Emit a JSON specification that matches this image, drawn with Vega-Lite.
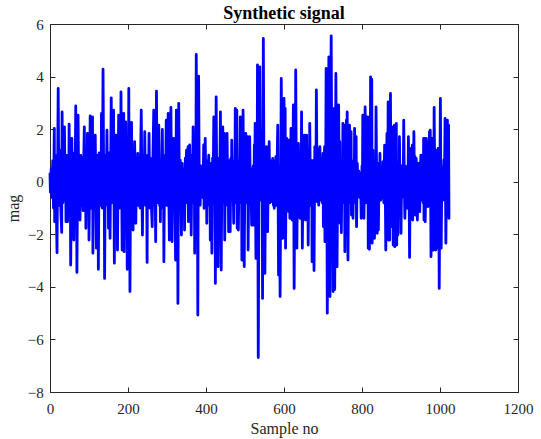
{
"$schema": "https://vega.github.io/schema/vega-lite/v6.json",
"width": 468, "height": 368,
"autosize": "none",
"padding": {"left": 50, "top": 24, "right": 23, "bottom": 47},
"background": "white",
"title": {"text": "Synthetic signal", "font": "Liberation Serif", "fontSize": 18, "fontWeight": "bold", "color": "#000000", "offset": -6},
"config": {
 "view": {"stroke": "#262626", "strokeWidth": 1},
 "axis": {"domain": false, "grid": false, "ticks": true, "tickSize": -5, "tickColor": "#262626", "tickWidth": 1,
  "labelFont": "Liberation Serif", "labelFontSize": 15, "labelColor": "#262626", "labelFlush": false, "labelOverlap": false, "labelBound": false,
  "titleFont": "Liberation Serif", "titleFontSize": 16, "titleFontWeight": "normal", "titleColor": "#262626"}
},
"data": {"values": [
{"n":0,"v":0.3},{"n":1,"v":-0.4},{"n":3,"v":0.5},{"n":5,"v":-0.6},{"n":7,"v":0.8},{"n":9,"v":-1.0},{"n":11,"v":2.03},{"n":12,"v":-1.52},{"n":14,"v":1.0},{"n":16,"v":-0.8},{"n":18,"v":-2.7},{"n":21,"v":3.55},{"n":23,"v":-0.9},{"n":25,"v":1.2},{"n":28,"v":-1.2},{"n":30,"v":-1.93},{"n":31,"v":2.66},{"n":33,"v":-0.8},{"n":37,"v":2.09},{"n":39,"v":-0.7},{"n":40,"v":0.6},{"n":41,"v":-1.52},{"n":43,"v":1.0},{"n":45,"v":-1.52},{"n":47,"v":0.9},{"n":48,"v":-0.6},{"n":49,"v":2.19},{"n":51,"v":-0.5},{"n":52,"v":0.5},{"n":53,"v":-3.17},{"n":56,"v":1.65},{"n":58,"v":-0.9},{"n":59,"v":1.0},{"n":61,"v":-2.22},{"n":63,"v":1.1},{"n":64,"v":-0.6},{"n":66,"v":2.88},{"n":67,"v":-1.0},{"n":68,"v":0.5},{"n":69,"v":-3.45},{"n":72,"v":2.53},{"n":74,"v":-0.8},{"n":75,"v":0.6},{"n":77,"v":-1.46},{"n":79,"v":1.0},{"n":81,"v":-0.9},{"n":83,"v":0.9},{"n":85,"v":-1.1},{"n":86,"v":0.5},{"n":88,"v":2.09},{"n":90,"v":-0.8},{"n":91,"v":0.4},{"n":92,"v":-1.77},{"n":94,"v":1.0},{"n":95,"v":-0.6},{"n":96,"v":1.84},{"n":98,"v":-1.0},{"n":99,"v":0.5},{"n":100,"v":-2.22},{"n":102,"v":0.6},{"n":103,"v":2.5},{"n":105,"v":-1.0},{"n":107,"v":1.0},{"n":108,"v":-0.6},{"n":109,"v":2.47},{"n":110,"v":-2.72},{"n":112,"v":0.8},{"n":114,"v":-0.9},{"n":116,"v":1.77},{"n":118,"v":-0.8},{"n":119,"v":-2.53},{"n":121,"v":1.0},{"n":123,"v":0.4},{"n":124,"v":-3.33},{"n":126,"v":1.1},{"n":128,"v":-0.9},{"n":130,"v":0.9},{"n":131,"v":-0.6},{"n":132,"v":2.6},{"n":134,"v":-1.0},{"n":136,"v":4.28},{"n":138,"v":-0.8},{"n":139,"v":0.5},{"n":140,"v":-3.68},{"n":142,"v":1.0},{"n":144,"v":-0.7},{"n":146,"v":1.96},{"n":148,"v":-0.9},{"n":149,"v":0.5},{"n":150,"v":-1.77},{"n":152,"v":1.1},{"n":154,"v":-2.15},{"n":157,"v":3.19},{"n":159,"v":-0.8},{"n":161,"v":0.9},{"n":162,"v":-0.5},{"n":163,"v":2.72},{"n":165,"v":-3.1},{"n":167,"v":1.0},{"n":168,"v":-0.6},{"n":169,"v":1.77},{"n":171,"v":-1.0},{"n":172,"v":0.5},{"n":173,"v":-2.6},{"n":175,"v":0.9},{"n":176,"v":2.53},{"n":178,"v":-1.0},{"n":180,"v":1.2},{"n":181,"v":-0.5},{"n":182,"v":3.42},{"n":184,"v":-0.6},{"n":185,"v":-2.6},{"n":187,"v":1.0},{"n":188,"v":-0.5},{"n":189,"v":2.6},{"n":190,"v":-2.66},{"n":192,"v":1.0},{"n":193,"v":-0.5},{"n":194,"v":2.28},{"n":196,"v":-0.9},{"n":197,"v":0.5},{"n":198,"v":-3.33},{"n":200,"v":1.0},{"n":201,"v":-0.5},{"n":202,"v":3.55},{"n":203,"v":-0.5},{"n":204,"v":0.6},{"n":205,"v":-4.18},{"n":207,"v":1.0},{"n":208,"v":-0.6},{"n":209,"v":2.26},{"n":211,"v":-0.9},{"n":212,"v":0.5},{"n":213,"v":-1.84},{"n":215,"v":0.9},{"n":216,"v":-0.5},{"n":217,"v":1.52},{"n":219,"v":-0.6},{"n":220,"v":-1.58},{"n":222,"v":0.8},{"n":223,"v":-0.5},{"n":225,"v":1.08},{"n":227,"v":-0.9},{"n":229,"v":0.7},{"n":231,"v":-1.0},{"n":232,"v":0.6},{"n":234,"v":2.72},{"n":236,"v":-0.8},{"n":237,"v":-2.03},{"n":239,"v":1.0},{"n":241,"v":-0.5},{"n":243,"v":1.9},{"n":245,"v":-0.9},{"n":247,"v":0.7},{"n":248,"v":-0.5},{"n":249,"v":-3.07},{"n":250,"v":1.0},{"n":252,"v":-0.8},{"n":254,"v":1.84},
{"n":256,"v":-1.0},{"n":258,"v":0.89},{"n":260,"v":-0.9},{"n":262,"v":-1.71},{"n":264,"v":1.0},{"n":266,"v":2.72},{"n":268,"v":-0.9},{"n":269,"v":0.5},{"n":271,"v":-2.28},{"n":273,"v":3.45},{"n":275,"v":-0.8},{"n":277,"v":1.0},{"n":278,"v":-0.6},{"n":279,"v":2.15},{"n":281,"v":-0.9},{"n":282,"v":0.5},{"n":283,"v":-1.52},{"n":285,"v":0.8},{"n":286,"v":-0.6},{"n":288,"v":1.99},{"n":290,"v":-1.0},{"n":291,"v":0.5},{"n":292,"v":-3.04},{"n":294,"v":1.0},{"n":296,"v":-0.7},{"n":298,"v":2.34},{"n":300,"v":-0.9},{"n":302,"v":0.6},{"n":303,"v":2.6},{"n":305,"v":-0.8},{"n":306,"v":-2.22},{"n":308,"v":0.9},{"n":309,"v":-0.5},{"n":310,"v":2.83},{"n":312,"v":-1.0},{"n":313,"v":-2.28},{"n":315,"v":0.9},{"n":316,"v":-0.5},{"n":317,"v":1.65},{"n":319,"v":-0.8},{"n":320,"v":0.5},{"n":322,"v":-2.98},{"n":324,"v":2.72},{"n":326,"v":-0.7},{"n":327,"v":0.6},{"n":328,"v":-4.63},{"n":330,"v":2.98},{"n":332,"v":-0.8},{"n":334,"v":0.82},{"n":336,"v":-1.0},{"n":337,"v":-2.03},{"n":339,"v":0.7},{"n":340,"v":-0.5},{"n":341,"v":0.5},{"n":343,"v":-0.9},{"n":344,"v":0.4},{"n":345,"v":-1.84},{"n":347,"v":0.9},{"n":348,"v":-0.6},{"n":350,"v":1.2},{"n":352,"v":-0.8},{"n":354,"v":1.33},{"n":355,"v":-1.52},{"n":357,"v":0.8},{"n":358,"v":1.4},{"n":360,"v":-0.9},{"n":361,"v":0.5},{"n":362,"v":-2.03},{"n":364,"v":1.0},{"n":365,"v":-0.6},{"n":367,"v":2.09},{"n":369,"v":-0.8},{"n":370,"v":0.5},{"n":371,"v":-2.72},{"n":373,"v":0.9},{"n":374,"v":-0.5},{"n":375,"v":4.84},{"n":377,"v":-0.8},{"n":378,"v":0.5},{"n":379,"v":-5.07},{"n":381,"v":4.02},{"n":383,"v":-0.6},{"n":384,"v":0.4},{"n":385,"v":-0.89},{"n":387,"v":0.6},{"n":388,"v":-0.5},{"n":390,"v":0.32},{"n":392,"v":-0.6},{"n":394,"v":1.4},{"n":395,"v":-1.01},{"n":397,"v":0.5},{"n":398,"v":1.65},{"n":400,"v":-0.7},{"n":401,"v":0.4},{"n":402,"v":-1.58},{"n":404,"v":0.8},{"n":405,"v":-0.5},{"n":407,"v":1.01},{"n":409,"v":-0.9},{"n":410,"v":0.5},{"n":411,"v":-2.22},{"n":413,"v":0.7},{"n":415,"v":-2.72},{"n":417,"v":0.9},{"n":418,"v":-0.5},{"n":420,"v":2.47},{"n":422,"v":-0.8},{"n":423,"v":0.5},{"n":424,"v":-3.87},{"n":426,"v":3.23},{"n":428,"v":-0.8},{"n":429,"v":0.5},{"n":431,"v":-3.23},{"n":433,"v":0.9},{"n":435,"v":-0.6},{"n":437,"v":2.66},{"n":439,"v":-3.36},{"n":441,"v":0.8},{"n":442,"v":-0.5},{"n":443,"v":2.09},{"n":445,"v":-0.8},{"n":446,"v":0.5},{"n":447,"v":1.84},{"n":448,"v":-2.22},{"n":450,"v":0.8},{"n":452,"v":-0.6},{"n":454,"v":1.84},{"n":456,"v":-0.9},{"n":457,"v":0.5},{"n":458,"v":-1.9},{"n":460,"v":0.8},{"n":462,"v":-1.9},{"n":464,"v":0.9},{"n":465,"v":-0.5},{"n":466,"v":1.58},{"n":468,"v":-0.7},{"n":469,"v":0.5},{"n":471,"v":-1.58},{"n":473,"v":0.8},{"n":474,"v":-0.5},{"n":475,"v":2.79},{"n":477,"v":-0.8},{"n":478,"v":0.6},{"n":479,"v":2.72},{"n":480,"v":-1.77},{"n":482,"v":0.7},{"n":483,"v":-1.84},{"n":485,"v":0.8},{"n":486,"v":-0.5},{"n":488,"v":2.47},{"n":490,"v":-0.8},{"n":491,"v":0.5},{"n":492,"v":-2.98},{"n":495,"v":2.72},{"n":497,"v":-0.6},{"n":498,"v":-3.23},{"n":500,"v":1.0},
{"n":501,"v":-0.6},{"n":502,"v":1.84},{"n":504,"v":-0.8},{"n":506,"v":0.6},{"n":507,"v":1.71},{"n":508,"v":-2.6},{"n":510,"v":0.7},{"n":511,"v":-0.5},{"n":512,"v":1.71},{"n":514,"v":-0.8},{"n":515,"v":0.5},{"n":517,"v":-1.65},{"n":519,"v":0.5},{"n":520,"v":-0.5},{"n":521,"v":0.6},{"n":522,"v":-1.65},{"n":524,"v":1.4},{"n":525,"v":-0.5},{"n":526,"v":2.22},{"n":528,"v":-2.92},{"n":530,"v":0.8},{"n":531,"v":-0.5},{"n":532,"v":4.44},{"n":534,"v":-6.69},{"n":536,"v":0.9},{"n":537,"v":-0.5},{"n":538,"v":4.37},{"n":540,"v":-0.7},{"n":541,"v":1.96},{"n":543,"v":-0.6},{"n":544,"v":0.5},{"n":545,"v":-4.44},{"n":547,"v":5.45},{"n":549,"v":-0.8},{"n":550,"v":0.5},{"n":551,"v":-3.49},{"n":553,"v":0.9},{"n":554,"v":-0.5},{"n":555,"v":1.33},{"n":557,"v":-0.7},{"n":558,"v":-1.9},{"n":560,"v":0.8},{"n":561,"v":-0.5},{"n":562,"v":1.52},{"n":564,"v":-0.8},{"n":565,"v":0.6},{"n":567,"v":-0.76},{"n":569,"v":0.8},{"n":570,"v":-0.5},{"n":571,"v":0.89},{"n":573,"v":-0.9},{"n":574,"v":0.5},{"n":575,"v":-1.01},{"n":577,"v":0.8},{"n":578,"v":-0.5},{"n":579,"v":0.95},{"n":581,"v":-0.9},{"n":582,"v":0.5},{"n":584,"v":2.15},{"n":586,"v":-3.55},{"n":588,"v":0.6},{"n":590,"v":-4.37},{"n":593,"v":3.93},{"n":595,"v":-0.8},{"n":596,"v":0.5},{"n":597,"v":-2.15},{"n":599,"v":0.8},{"n":600,"v":3.17},{"n":602,"v":-0.8},{"n":603,"v":2.79},{"n":604,"v":-2.53},{"n":606,"v":0.9},{"n":607,"v":1.65},{"n":609,"v":-0.8},{"n":610,"v":0.5},{"n":611,"v":1.58},{"n":612,"v":-1.14},{"n":614,"v":0.7},{"n":615,"v":-1.39},{"n":617,"v":0.9},{"n":618,"v":2.03},{"n":620,"v":-0.7},{"n":621,"v":-1.46},{"n":623,"v":0.8},{"n":624,"v":2.92},{"n":626,"v":-4.06},{"n":628,"v":0.9},{"n":629,"v":-0.5},{"n":630,"v":4.25},{"n":632,"v":-0.8},{"n":633,"v":-2.53},{"n":635,"v":0.9},{"n":636,"v":-0.5},{"n":637,"v":1.46},{"n":639,"v":-0.9},{"n":640,"v":0.5},{"n":641,"v":-1.39},{"n":643,"v":0.8},{"n":644,"v":-0.5},{"n":645,"v":2.66},{"n":647,"v":-2.53},{"n":649,"v":0.7},{"n":650,"v":-0.5},{"n":652,"v":1.77},{"n":654,"v":-0.7},{"n":655,"v":-1.46},{"n":657,"v":0.8},{"n":658,"v":1.77},{"n":660,"v":-0.8},{"n":661,"v":0.5},{"n":662,"v":-2.41},{"n":664,"v":0.8},{"n":665,"v":-0.5},{"n":666,"v":2.22},{"n":668,"v":-0.9},{"n":669,"v":0.5},{"n":670,"v":-0.4},{"n":671,"v":0.8},{"n":672,"v":-3.04},{"n":674,"v":0.8},{"n":675,"v":-0.5},{"n":677,"v":-3.38},{"n":679,"v":1.33},{"n":681,"v":-0.6},{"n":682,"v":0.5},{"n":683,"v":3.49},{"n":685,"v":-0.76},{"n":686,"v":1.27},{"n":688,"v":-0.6},{"n":689,"v":-0.89},{"n":691,"v":0.8},{"n":692,"v":1.33},{"n":694,"v":-0.7},{"n":695,"v":0.5},{"n":696,"v":0.63},{"n":698,"v":-0.8},{"n":699,"v":0.5},{"n":700,"v":1.08},{"n":701,"v":-1.71},{"n":703,"v":0.7},{"n":704,"v":1.33},{"n":705,"v":-2.28},{"n":707,"v":0.8},{"n":708,"v":4.31},{"n":710,"v":-0.6},{"n":711,"v":-5.0},{"n":713,"v":0.9},{"n":715,"v":4.75},{"n":716,"v":-1.0},{"n":717,"v":4.7},{"n":718,"v":-4.37},{"n":719,"v":0.8},{"n":721,"v":5.55},{"n":723,"v":-0.8},{"n":724,"v":0.5},{"n":726,"v":-4.18},{"n":728,"v":0.8},{"n":729,"v":2.79},{"n":730,"v":-4.1},{"n":732,"v":0.7},{"n":733,"v":4.12},{"n":735,"v":-0.8},{"n":736,"v":-3.23},{"n":738,"v":0.8},{"n":739,"v":-0.5},{"n":740,"v":2.92},{"n":742,"v":-0.8},{"n":743,"v":1.52},{"n":744,"v":-1.58},{"n":746,"v":0.7},{"n":747,"v":-1.94},{"n":749,"v":0.8},{"n":750,"v":-0.5},{"n":751,"v":2.22},{"n":753,"v":-0.8},{"n":754,"v":0.5},{"n":755,"v":2.15},{"n":756,"v":-2.66},{"n":758,"v":0.8},{"n":759,"v":-0.5},{"n":760,"v":2.34},
{"n":761,"v":-0.6},{"n":762,"v":2.66},{"n":764,"v":-2.98},{"n":766,"v":0.8},{"n":767,"v":-0.5},{"n":768,"v":2.15},{"n":770,"v":-0.8},{"n":771,"v":0.5},{"n":772,"v":1.9},{"n":773,"v":-1.27},{"n":775,"v":0.7},{"n":776,"v":-0.5},{"n":777,"v":-1.39},{"n":779,"v":0.8},{"n":780,"v":-0.5},{"n":781,"v":2.03},{"n":783,"v":-0.8},{"n":784,"v":0.5},{"n":785,"v":1.71},{"n":786,"v":-1.71},{"n":788,"v":0.7},{"n":790,"v":-0.5},{"n":792,"v":0.4},{"n":794,"v":-0.6},{"n":796,"v":0.3},{"n":798,"v":-1.39},{"n":800,"v":0.6},{"n":801,"v":-0.5},{"n":802,"v":2.53},{"n":804,"v":-0.7},{"n":805,"v":-1.39},{"n":807,"v":0.8},{"n":808,"v":2.85},{"n":810,"v":-0.8},{"n":811,"v":0.5},{"n":812,"v":2.47},{"n":814,"v":-0.8},{"n":815,"v":2.47},{"n":816,"v":-2.53},{"n":817,"v":0.5},{"n":819,"v":-2.57},{"n":820,"v":0.8},{"n":821,"v":-0.5},{"n":822,"v":3.99},{"n":824,"v":-0.7},{"n":825,"v":3.9},{"n":826,"v":-2.34},{"n":828,"v":1.2},{"n":829,"v":-2.09},{"n":831,"v":0.8},{"n":832,"v":-2.15},{"n":834,"v":0.8},{"n":835,"v":-0.5},{"n":836,"v":2.85},{"n":838,"v":-0.7},{"n":839,"v":-1.96},{"n":841,"v":0.7},{"n":842,"v":-1.84},{"n":844,"v":0.5},{"n":845,"v":-0.5},{"n":846,"v":1.08},{"n":848,"v":-0.7},{"n":849,"v":-0.51},{"n":850,"v":0.6},{"n":852,"v":-0.6},{"n":854,"v":0.76},{"n":856,"v":-0.8},{"n":857,"v":0.5},{"n":858,"v":1.39},{"n":860,"v":-0.8},{"n":861,"v":-2.6},{"n":863,"v":0.7},{"n":864,"v":1.84},{"n":866,"v":-0.8},{"n":867,"v":3.04},{"n":868,"v":-2.22},{"n":870,"v":0.7},{"n":871,"v":-2.22},{"n":873,"v":3.36},{"n":874,"v":-0.6},{"n":876,"v":-1.71},{"n":877,"v":0.7},{"n":878,"v":-0.5},{"n":879,"v":2.09},{"n":880,"v":-2.41},{"n":882,"v":0.7},{"n":883,"v":2.15},{"n":884,"v":-2.47},{"n":886,"v":0.7},{"n":887,"v":-0.5},{"n":888,"v":2.22},{"n":889,"v":-2.41},{"n":891,"v":0.7},{"n":892,"v":-2.03},{"n":894,"v":0.7},{"n":895,"v":-0.5},{"n":896,"v":1.71},{"n":898,"v":-0.8},{"n":899,"v":0.5},{"n":900,"v":-1.96},{"n":902,"v":0.6},{"n":904,"v":-0.57},{"n":906,"v":0.5},{"n":907,"v":2.34},{"n":909,"v":-0.6},{"n":910,"v":-1.39},{"n":912,"v":0.57},{"n":914,"v":-0.5},{"n":915,"v":0.4},{"n":916,"v":-1.01},{"n":917,"v":0.6},{"n":918,"v":-0.4},{"n":919,"v":1.71},{"n":921,"v":-0.7},{"n":922,"v":-2.88},{"n":924,"v":0.6},{"n":925,"v":-0.5},{"n":926,"v":1.27},{"n":928,"v":-0.6},{"n":929,"v":1.39},{"n":930,"v":-1.46},{"n":931,"v":0.5},{"n":932,"v":-0.4},{"n":933,"v":1.9},{"n":935,"v":-0.6},{"n":936,"v":0.95},{"n":937,"v":-1.27},{"n":939,"v":0.89},{"n":941,"v":-0.5},{"n":942,"v":-1.46},{"n":944,"v":0.7},{"n":945,"v":-0.4},{"n":946,"v":0.7},{"n":947,"v":-0.6},{"n":948,"v":-1.14},{"n":950,"v":0.6},{"n":951,"v":1.01},{"n":953,"v":-0.7},{"n":954,"v":0.4},{"n":955,"v":1.01},{"n":957,"v":-0.8},{"n":958,"v":1.65},{"n":959,"v":-1.46},{"n":961,"v":1.65},{"n":962,"v":-1.52},{"n":964,"v":0.5},{"n":965,"v":1.65},{"n":967,"v":-0.6},{"n":968,"v":1.52},{"n":969,"v":-0.95},{"n":971,"v":0.6},{"n":972,"v":-0.4},{"n":973,"v":1.9},{"n":974,"v":-0.6},{"n":975,"v":1.96},{"n":977,"v":-2.85},{"n":979,"v":0.6},{"n":980,"v":1.65},{"n":982,"v":-0.7},{"n":983,"v":-2.6},{"n":985,"v":2.83},{"n":987,"v":-0.7},{"n":988,"v":1.2},{"n":989,"v":-2.6},{"n":991,"v":0.6},{"n":992,"v":-2.53},{"n":994,"v":0.7},{"n":995,"v":1.27},{"n":997,"v":-0.7},{"n":998,"v":-4.06},{"n":1001,"v":3.17},{"n":1003,"v":-2.53},{"n":1005,"v":0.5},{"n":1006,"v":-0.5},{"n":1007,"v":0.57},{"n":1008,"v":-0.6},{"n":1010,"v":0.83},{"n":1011,"v":-0.7},{"n":1013,"v":2.41},{"n":1015,"v":-2.34},{"n":1017,"v":0.6},{"n":1018,"v":-0.5},{"n":1019,"v":2.34},{"n":1021,"v":-0.7},{"n":1022,"v":2.15},{"n":1023,"v":-1.39}
]},
"layer": [
 {"mark": {"type": "line", "color": "#0000FF", "strokeWidth": 2.8, "strokeJoin": "round", "strokeCap": "round"},
  "encoding": {
   "x": {"field": "n", "type": "quantitative", "sort": null, "scale": {"domain": [0, 1200], "nice": false, "zero": false},
         "axis": {"orient": "bottom", "values": [0,200,400,600,800,1000,1200], "format": "d", "labelFont": "Liberation Serif", "labelFontSize": 15, "labelPadding": 14.5, "title": "Sample no", "titleFont": "Liberation Serif", "titleFontSize": 16, "titlePadding": 4}},
   "y": {"field": "v", "type": "quantitative", "scale": {"domain": [-8, 6], "nice": false, "zero": false},
         "axis": {"orient": "left", "values": [-8,-6,-4,-2,0,2,4,6], "format": "d", "labelFont": "Liberation Serif", "labelFontSize": 15, "labelPadding": 11.7, "title": "mag", "titleFont": "Liberation Serif", "titleFontSize": 16, "titlePadding": 6}}
  }},
 {"mark": {"type": "point", "opacity": 0},
  "encoding": {
   "x": {"field": "n", "type": "quantitative", "axis": {"orient": "top", "values": [0,200,400,600,800,1000,1200], "labels": false, "title": null}},
   "y": {"field": "v", "type": "quantitative", "axis": {"orient": "right", "values": [-8,-6,-4,-2,0,2,4,6], "labels": false, "title": null}}
  }}
],
"resolve": {"axis": {"x": "independent", "y": "independent"}}
}
